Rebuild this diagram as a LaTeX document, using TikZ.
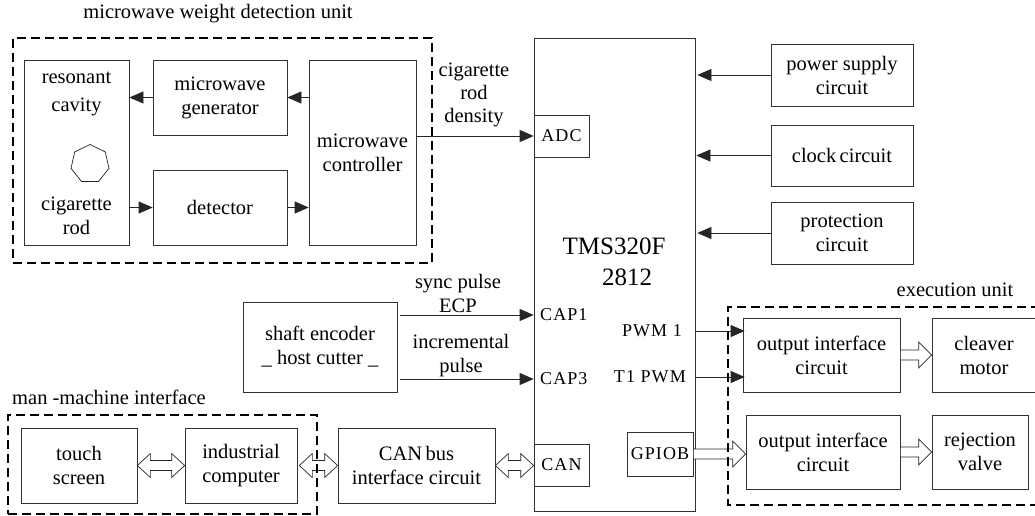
\documentclass[tikz,border=0pt]{standalone}
\usepackage{fontspec}
\setmainfont{Liberation Serif}
\newfontfamily\spc[LetterSpace=6]{Liberation Serif}
\usetikzlibrary{arrows.meta,calc,shapes.geometric}
\newcommand\fs{\fontsize{20.5}{24}\selectfont}
\newcommand\pinfs{\spc\fontsize{18}{20}\selectfont}
\tikzset{
 bx/.style={draw=black!80, line width=0.7pt, inner sep=0pt, align=center, font=\fs},
 txt/.style={inner sep=0pt, align=center, font=\fs},
 pinlbl/.style={inner sep=0pt, font=\pinfs},
 grp/.style={draw=black, line width=2.2pt, dash pattern=on 9pt off 5pt},
 arr/.style={draw=black!85, line width=0.7pt, -{Triangle[length=14pt,width=12pt]}},
 hol/.style={draw=black!85, line width=0.7pt, fill=white},
}
\newcommand\harrowR[2]{\draw[hol] let \p1=#1, \p2=#2 in (\x1,\y1+5pt) -- (\x2-13pt,\y1+5pt) -- (\x2-13pt,\y1+13pt) -- (\x2,\y1) -- (\x2-13pt,\y1-13pt) -- (\x2-13pt,\y1-5pt) -- (\x1,\y1-5pt) -- cycle;}
\newcommand\harrowLR[2]{\draw[hol] let \p1=#1, \p2=#2 in (\x1,\y1) -- (\x1+13pt,\y1+12pt) -- (\x1+13pt,\y1+5pt) -- (\x2-13pt,\y1+5pt) -- (\x2-13pt,\y1+12pt) -- (\x2,\y1) -- (\x2-13pt,\y1-12pt) -- (\x2-13pt,\y1-5pt) -- (\x1+13pt,\y1-5pt) -- (\x1+13pt,\y1-12pt) -- cycle;}
\begin{document}
\begin{tikzpicture}[x=1pt,y=-1pt]
\useasboundingbox[fill=white] (0,0) rectangle (1035,516);

% ---- microwave weight detection unit ----
\node[txt] (mwtitle) at (218,14) {microwave weight detection unit};
\node[bx, minimum width=105pt, minimum height=185pt] (cav) at (76.5,152.5) {};
\node[txt] (cavt) at (76.5,94) {resonant\\[4pt]cavity};
\node[txt] (cigt) at (76.5,216) {cigarette\\rod};
\node[draw=black!85, line width=0.7pt, regular polygon, regular polygon sides=7, minimum size=39pt, inner sep=0pt] (hept) at (90,164) {};
\node[bx, minimum width=134pt, minimum height=75pt] (gen) at (220,97.5) {microwave\\generator};
\node[bx, minimum width=134pt, minimum height=75pt] (det) at (220,207.5) {detector};
\node[bx, minimum width=107pt, minimum height=185pt] (ctrl) at (362.5,152.5) {microwave\\controller};
\node[txt, font=\fontsize{20.5}{23}\selectfont] (dens) at (474,95) {cigarette\\rod\\density};

% ---- DSP ----
\node[bx, minimum width=161pt, minimum height=473pt] (tms) at (614.5,274.5) {};
\node[txt, font=\fontsize{25}{30}\selectfont] (tmst1) at (614,246) {TMS320F};
\node[txt, font=\fontsize{25}{30}\selectfont] (tmst2) at (627,277) {2812};
\node[bx, font=\pinfs, minimum width=55pt, minimum height=42pt] (adc) at (561.5,136) {ADC};
\node[pinlbl, anchor=west] (cap1) at (540,315) {CAP1};
\node[pinlbl, anchor=west] (cap3) at (540,379) {CAP3};
\node[pinlbl, anchor=east] (pwm1) at (682,331) {PWM 1};
\node[pinlbl, anchor=east] (t1pwm) at (686,377) {T1 PWM};
\node[bx, font=\pinfs, minimum width=66pt, minimum height=44pt] (gpio) at (660,454) {GPIOB};
\node[bx, font=\pinfs, minimum width=55pt, minimum height=42pt] (can) at (561.5,465) {CAN};

% ---- right column ----
\node[bx, minimum width=142pt, minimum height=62pt] (pow) at (842,75) {power supply\\circuit};
\node[bx, minimum width=142pt, minimum height=61pt] (clk) at (842,155.5) {clock\,circuit};
\node[bx, minimum width=142pt, minimum height=62pt] (pro) at (842,233) {protection\\circuit};

% ---- encoder ----
\node[bx, minimum width=154pt, minimum height=90pt] (enc) at (320,347) {shaft encoder\\\_ host cutter \_};
\node[txt] (syncl) at (458,293) {sync pulse\\ECP};
\node[txt] (incl) at (461,356) {incremental\\pulse};

% ---- man-machine interface ----
\node[txt, anchor=west] (hmititle) at (12,397) {man -machine interface};
\node[bx, minimum width=116pt, minimum height=75pt] (touch) at (79,465.5) {touch\\screen};
\node[bx, minimum width=112pt, minimum height=75pt] (ind) at (241,465.5) {industrial\\computer};
\node[bx, minimum width=157pt, minimum height=75pt] (canbus) at (416.5,465.5) {CAN\,bus\\interface circuit};

% ---- execution unit ----
\node[txt] (exutitle) at (955,290) {execution unit};
\node[bx, minimum width=157pt, minimum height=74pt] (oic1) at (821.5,355) {output interface\\circuit};
\node[bx, minimum width=104pt, minimum height=74pt] (cm) at (984,355) {cleaver\\motor};
\node[bx, minimum width=154pt, minimum height=74pt] (oic2) at (823,452) {output interface\\circuit};
\node[bx, minimum width=96pt, minimum height=74pt] (rv) at (980,452) {rejection\\valve};

% ---- arrows ----
\draw[arr] (gen.west) -- (gen.west -| cav.east);
\draw[arr] (gen.east -| ctrl.west) -- (gen.east);
\draw[arr] (det.west -| cav.east) -- (det.west);
\draw[arr] (det.east) -- (det.east -| ctrl.west);
\draw[arr] (ctrl.east |- adc.west) -- (adc.west);
\draw[arr] (pow.west) -- ([xshift=2pt]pow.west -| tms.east);
\draw[arr] (clk.west) -- ([xshift=1pt]clk.west -| tms.east);
\draw[arr] (pro.west) -- ([xshift=2pt]pro.west -| tms.east);
\draw[arr] ([xshift=3pt]enc.east |- cap1.west) -- (tms.west |- cap1.west);
\draw[arr] ([xshift=3pt]enc.east |- cap3.west) -- (tms.west |- cap3.west);
\draw[arr] (tms.east |- pwm1.east) -- ([xshift=2pt]oic1.west |- pwm1.east);
\draw[arr] (tms.east |- t1pwm.east) -- ([xshift=2pt]oic1.west |- t1pwm.east);

\harrowR{(gpio.east)}{(oic2.west)}
\harrowR{(oic1.east)}{(cm.west)}
\harrowR{(oic2.east)}{(rv.west)}
\harrowLR{(touch.east)}{(ind.west)}
\harrowLR{([xshift=2pt]ind.east)}{(canbus.west)}
\harrowLR{(canbus.east)}{(can.west)}

% ---- group frames ----
\node[grp, minimum width=419pt, minimum height=225pt, inner sep=0pt] (mw) at (222.5,150.5) {};
\node[grp, minimum width=309pt, minimum height=99pt, inner sep=0pt] (hmi) at (162.5,464.5) {};
\draw[grp] (1040,307) -- (728,307) -- (728,505) -- (1040,505);
\end{tikzpicture}
\end{document}
